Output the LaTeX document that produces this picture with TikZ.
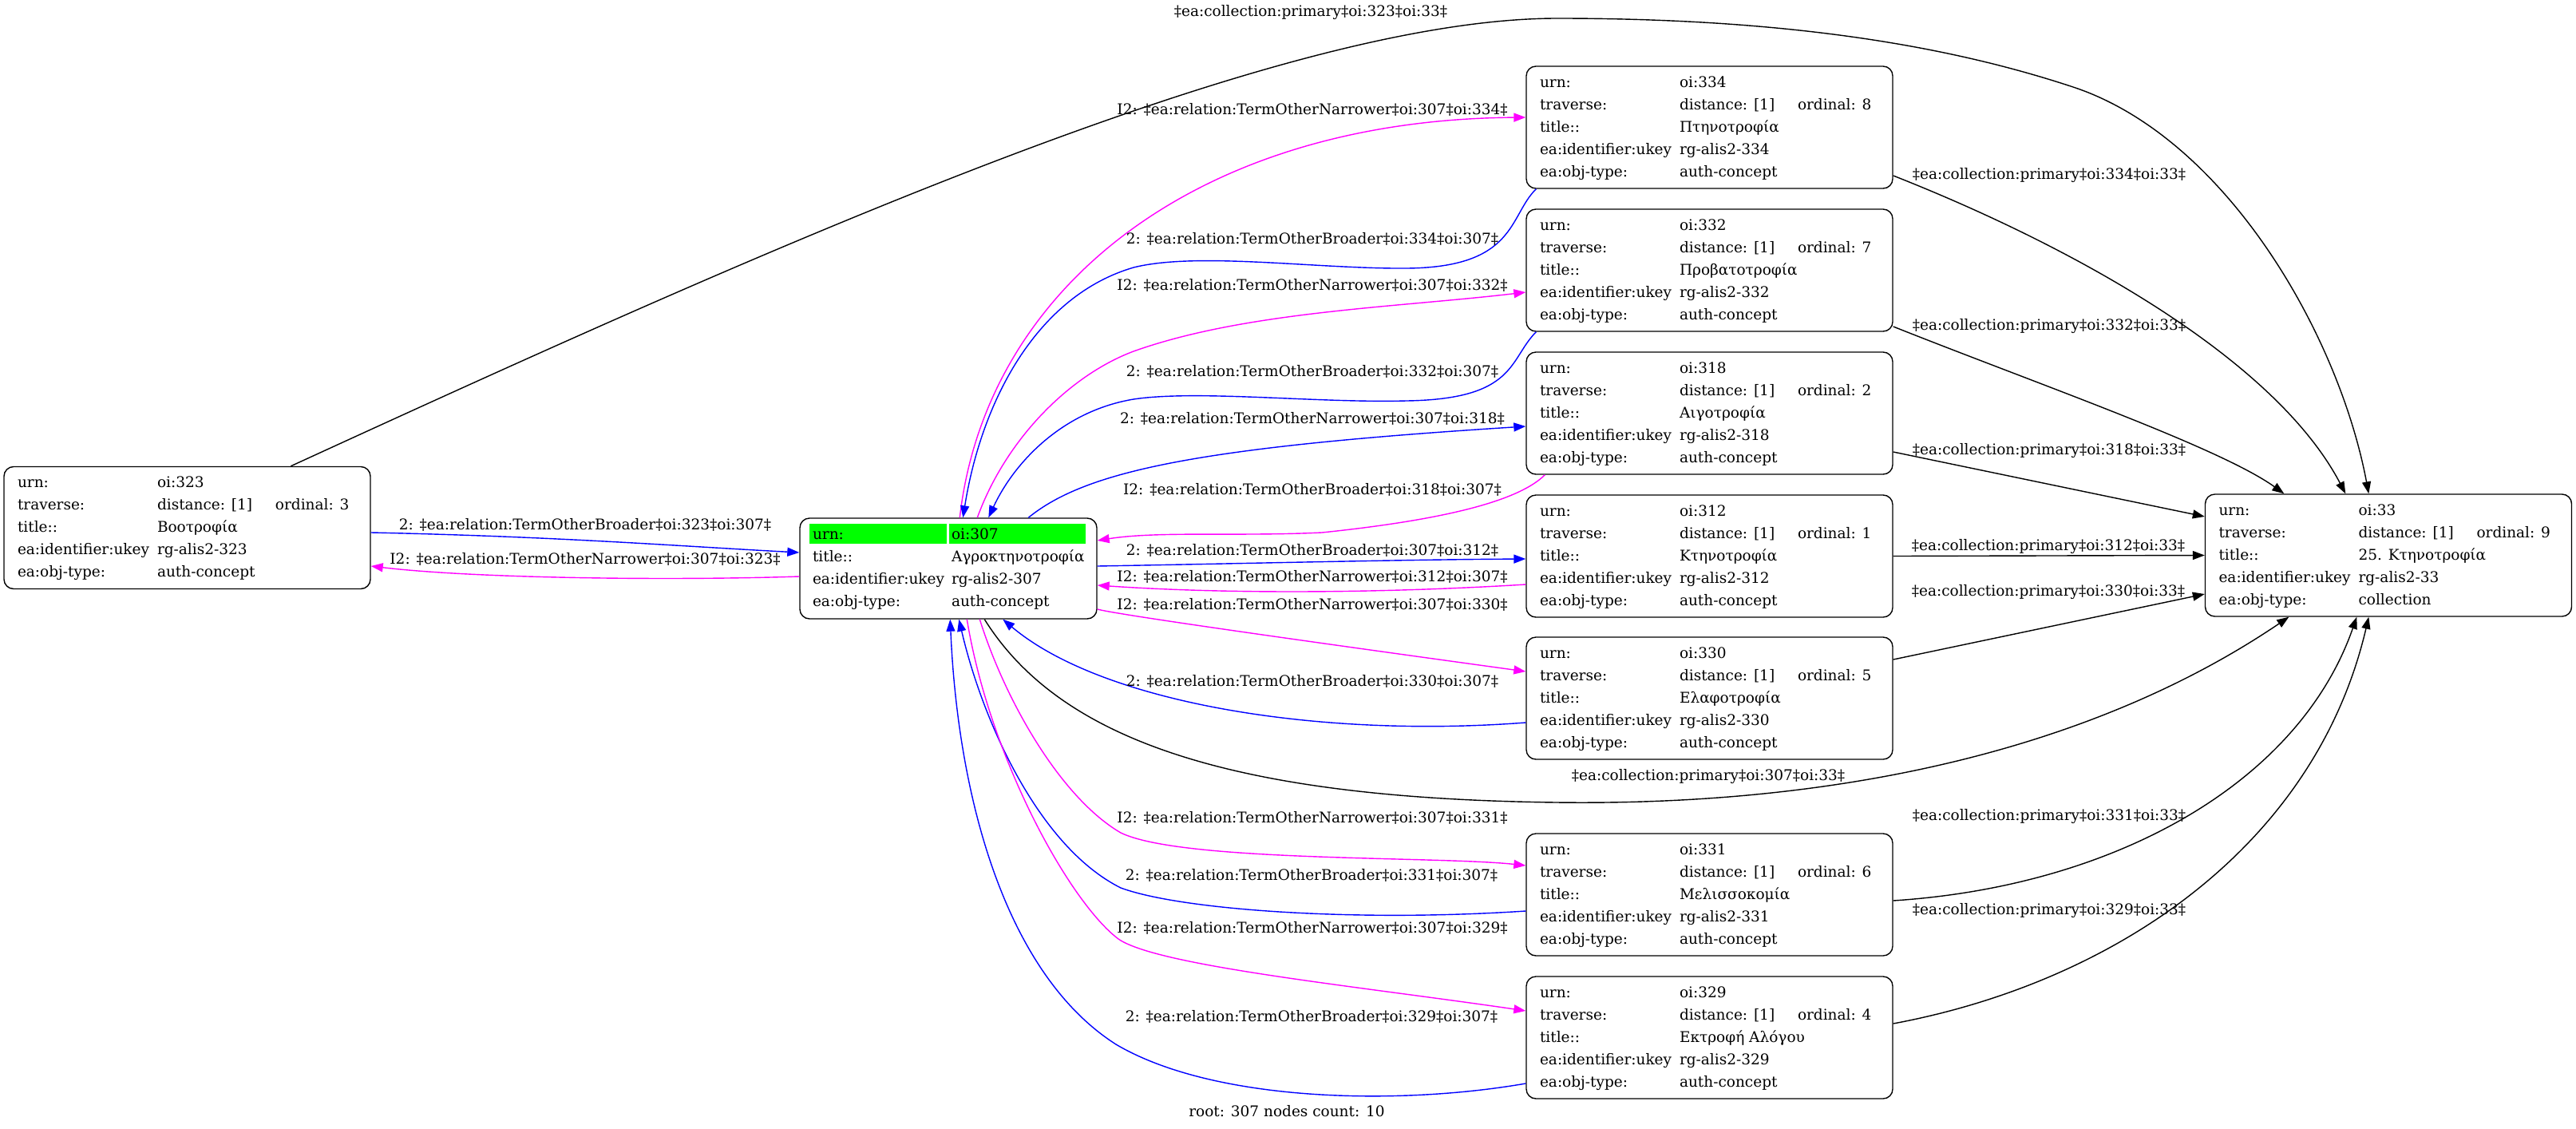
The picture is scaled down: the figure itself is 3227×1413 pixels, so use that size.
\documentclass[tikz,border=0pt]{standalone}
\usepackage{fontspec}
\setmainfont{DejaVu Serif}
\usetikzlibrary{arrows.meta,calc,backgrounds}
\definecolor{gvblue}{RGB}{0,0,255}
\definecolor{gvmag}{RGB}{255,0,255}
\definecolor{gvgreen}{RGB}{0,255,0}
\newcommand{\gvf}{\fontsize{18.5}{28}\selectfont}
\newcommand{\gvrow}[3]{\makebox[175pt][l]{#1}\makebox[148pt][l]{#2}\makebox[102pt][l]{#3}}
\newcommand{\gvrowb}[2]{\makebox[174pt][l]{#1}\makebox[166pt][l]{#2}}
\newcommand{\recfive}[5]{\begin{tabular}{@{}l@{}}\gvrow{urn:}{#1}{}\\\gvrow{traverse:}{distance: [1]}{ordinal: #2}\\\gvrow{title::}{#3}{}\\\gvrow{ea:identifier:ukey}{#4}{}\\\gvrow{ea:obj-type:}{#5}{}\end{tabular}}
\newcommand{\recfour}{\begin{tabular}{@{}l@{}}\gvrowb{urn:}{oi:307}\\\gvrowb{title::}{Αγροκτηνοτροφία}\\\gvrowb{ea:identifier:ukey}{rg-alis2-307}\\\gvrowb{ea:obj-type:}{auth-concept}\end{tabular}}
\begin{document}
\begin{tikzpicture}[x=1pt,y=-1pt,
  box5/.style={draw, line width=1.4pt, rounded corners=12pt, inner xsep=17pt, inner ysep=0pt, minimum width=459pt, minimum height=153pt, font=\gvf},
  box4/.style={draw, line width=1.4pt, rounded corners=12pt, inner xsep=16pt, inner ysep=0pt, minimum width=372pt, minimum height=126pt, font=\gvf},
  lbl/.style={inner sep=0pt, font=\gvf, text=black},
  edge/.style={line width=1.4pt, -{Triangle[length=15pt,width=11pt]}},
  bl/.style={edge, draw=gvblue},
  mg/.style={edge, draw=gvmag},
  bk/.style={edge, draw=black}]
\useasboundingbox (0,0) rectangle (3227,1413);

\node[box5] (n323) at (234.5,661) {\recfive{oi:323}{3}{Βοοτροφία}{rg-alis2-323}{auth-concept}};
\node[box4] (n307) at (1188,712) {\recfour};
\node[box5] (n334) at (2141.5,159.5) {\recfive{oi:334}{8}{Πτηνοτροφία}{rg-alis2-334}{auth-concept}};
\node[box5] (n332) at (2141.5,338.5) {\recfive{oi:332}{7}{Προβατοτροφία}{rg-alis2-332}{auth-concept}};
\node[box5] (n318) at (2141.5,517.5) {\recfive{oi:318}{2}{Αιγοτροφία}{rg-alis2-318}{auth-concept}};
\node[box5] (n312) at (2141.5,696.5) {\recfive{oi:312}{1}{Κτηνοτροφία}{rg-alis2-312}{auth-concept}};
\node[box5] (n330) at (2141.5,874.5) {\recfive{oi:330}{5}{Ελαφοτροφία}{rg-alis2-330}{auth-concept}};
\node[box5] (n331) at (2141.5,1120.5) {\recfive{oi:331}{6}{Μελισσοκομία}{rg-alis2-331}{auth-concept}};
\node[box5] (n329) at (2141.5,1299.5) {\recfive{oi:329}{4}{Εκτροφή Αλόγου}{rg-alis2-329}{auth-concept}};
\node[box5] (n33) at (2992,695.5) {\recfive{oi:33}{9}{25. Κτηνοτροφία}{rg-alis2-33}{collection}};

\begin{scope}[on background layer]
\fill[gvgreen] ($(n307.north west)+(13,8)$) rectangle ($(n307.north west)+(185,33)$);
\fill[gvgreen] ($(n307.north west)+(188,8)$) rectangle ($(n307.north west)+(359,33)$);
\end{scope}

% 323 <-> 307
\draw[bl] ($(n323.east)+(0,6)$) .. controls (700,672) and (850,684) .. ($(n307.west)+(0,-20)$)
  node[lbl] (l1) at (733,657) {2: ‡ea:relation:TermOtherBroader‡oi:323‡oi:307‡};
\draw[mg] ($(n307.west)+(0,10)$) .. controls (850,727) and (600,725) .. ($(n323.east)+(0,48)$)
  node[lbl] (l2) at (733,700) {I2: ‡ea:relation:TermOtherNarrower‡oi:307‡oi:323‡};

% collection edges
\draw[bk] ($(n323.north west)+(360,0)$) .. controls (966,308) and (1600,23) .. (1951,23)
  .. controls (2250,23) and (2450,60) .. (2600,110)
  .. controls (2790,175) and (2930,420) .. ($(n33.north west)+(205.5,0)$)
  node[lbl] (l3) at (1642,16) {‡ea:collection:primary‡oi:323‡oi:33‡};
\draw[bk] ($(n334.east)+(0,60.5)$) .. controls (2600,310) and (2850,450) .. ($(n33.north west)+(176.5,0)$)
  node[lbl] (l4) at (2567,220) {‡ea:collection:primary‡oi:334‡oi:33‡};
\draw[bk] ($(n332.east)+(0,70.5)$) .. controls (2550,480) and (2780,560) .. ($(n33.north west)+(99.5,0)$)
  node[lbl] (l5) at (2567,409) {‡ea:collection:primary‡oi:332‡oi:33‡};
\draw[bk] ($(n318.east)+(0,48.5)$) -- ($(n33.west)+(0,-48.5)$)
  node[lbl] (l6) at (2567,565) {‡ea:collection:primary‡oi:318‡oi:33‡};
\draw[bk] (n312.east) -- (n33.west)
  node[lbl] (l7) at (2566,685) {‡ea:collection:primary‡oi:312‡oi:33‡};
\draw[bk] ($(n330.east)+(0,-48.5)$) -- ($(n33.west)+(0,48.5)$)
  node[lbl] (l8) at (2566,742) {‡ea:collection:primary‡oi:330‡oi:33‡};
\draw[bk] ($(n331.east)+(0,7.5)$) .. controls (2650,1110) and (2880,980) .. ($(n33.south west)+(190.5,0)$)
  node[lbl] (l9) at (2567,1023) {‡ea:collection:primary‡oi:331‡oi:33‡};
\draw[bk] ($(n329.east)+(0,-17.5)$) .. controls (2650,1230) and (2900,1060) .. ($(n33.south west)+(205.5,0)$)
  node[lbl] (l10) at (2567,1141) {‡ea:collection:primary‡oi:329‡oi:33‡};
\draw[bk] ($(n307.south west)+(232,0)$) .. controls (1330,930) and (1550,1000) .. (1950,1005)
  .. controls (2350,1010) and (2650,920) .. ($(n33.south west)+(105.5,0)$)
  node[lbl] (l11) at (2140,973) {‡ea:collection:primary‡oi:307‡oi:33‡};

% 307 <-> 334
\draw[mg] ($(n307.north west)+(201,0)$) .. controls (1235,360) and (1500,150) .. ($(n334.west)+(0,-12.5)$)
  node[lbl] (l12) at (1644,137) {I2: ‡ea:relation:TermOtherNarrower‡oi:307‡oi:334‡};
\draw[bl] ($(n334.south west)+(13,0)$) .. controls (1890,270) and (1900,335) .. (1762,336)
  .. controls (1650,337) and (1500,315) .. (1420,335)
  .. controls (1300,370) and (1230,500) .. ($(n307.north west)+(205,0)$)
  node[lbl] (l13) at (1644,299) {2: ‡ea:relation:TermOtherBroader‡oi:334‡oi:307‡};
% 307 <-> 332
\draw[mg] ($(n307.north west)+(223,0)$) .. controls (1260,550) and (1340,470) .. (1420,440)
  .. controls (1560,390) and (1750,385) .. ($(n332.west)+(0,27.5)$)
  node[lbl] (l14) at (1644,357) {I2: ‡ea:relation:TermOtherNarrower‡oi:307‡oi:332‡};
\draw[bl] ($(n332.south west)+(13,0)$) .. controls (1890,450) and (1900,500) .. (1762,502)
  .. controls (1650,505) and (1500,488) .. (1420,500)
  .. controls (1330,515) and (1270,580) .. ($(n307.north west)+(237,0)$)
  node[lbl] (l15) at (1644,465) {2: ‡ea:relation:TermOtherBroader‡oi:332‡oi:307‡};
% 307 <-> 318
\draw[bl] ($(n307.north west)+(287,0)$) .. controls (1360,590) and (1500,560) .. ($(n318.west)+(0,16.5)$)
  node[lbl] (l16) at (1644,524) {2: ‡ea:relation:TermOtherNarrower‡oi:307‡oi:318‡};
\draw[mg] ($(n318.south west)+(24,0)$) .. controls (1905,625) and (1820,650) .. (1656,667)
  .. controls (1550,672) and (1450,665) .. ($(n307.east)+(0,-35)$)
  node[lbl] (l17) at (1644,613) {I2: ‡ea:relation:TermOtherBroader‡oi:318‡oi:307‡};
% 307 <-> 312
\draw[bl] ($(n307.east)+(0,-3)$) .. controls (1550,706) and (1750,701) .. ($(n312.west)+(0,3.5)$)
  node[lbl] (l18) at (1644,689) {2: ‡ea:relation:TermOtherBroader‡oi:307‡oi:312‡};
\draw[mg] ($(n312.west)+(0,35.5)$) .. controls (1750,742) and (1550,745) .. ($(n307.east)+(0,21)$)
  node[lbl] (l19) at (1644,722) {I2: ‡ea:relation:TermOtherNarrower‡oi:312‡oi:307‡};
% 307 <-> 330
\draw[mg] ($(n307.east)+(0,51)$) .. controls (1400,770) and (1650,805) .. ($(n330.west)+(0,-33.5)$)
  node[lbl] (l20) at (1644,757) {I2: ‡ea:relation:TermOtherNarrower‡oi:307‡oi:330‡};
\draw[bl] ($(n330.west)+(0,30.5)$) .. controls (1650,925) and (1380,880) .. ($(n307.south west)+(255,0)$)
  node[lbl] (l21) at (1644,853) {2: ‡ea:relation:TermOtherBroader‡oi:330‡oi:307‡};
% 307 <-> 331
\draw[mg] ($(n307.south west)+(226,0)$) .. controls (1260,880) and (1330,1000) .. (1404,1043)
  .. controls (1480,1080) and (1800,1072) .. ($(n331.west)+(0,-36.5)$)
  node[lbl] (l22) at (1644,1024) {I2: ‡ea:relation:TermOtherNarrower‡oi:307‡oi:331‡};
\draw[bl] ($(n331.west)+(0,20.5)$) .. controls (1700,1155) and (1480,1140) .. (1404,1112)
  .. controls (1300,1060) and (1230,900) .. ($(n307.south west)+(200,0)$)
  node[lbl] (l23) at (1643,1096) {2: ‡ea:relation:TermOtherBroader‡oi:331‡oi:307‡};
% 307 <-> 329
\draw[mg] ($(n307.south west)+(210,0)$) .. controls (1240,950) and (1340,1130) .. (1401,1176)
  .. controls (1450,1210) and (1700,1235) .. ($(n329.west)+(0,-33.5)$)
  node[lbl] (l24) at (1644,1162) {I2: ‡ea:relation:TermOtherNarrower‡oi:307‡oi:329‡};
\draw[bl] ($(n329.west)+(0,57.5)$) .. controls (1750,1385) and (1520,1380) .. (1398,1308)
  .. controls (1260,1220) and (1200,1000) .. ($(n307.south west)+(189,0)$)
  node[lbl] (l25) at (1643,1273) {2: ‡ea:relation:TermOtherBroader‡oi:329‡oi:307‡};

\node[lbl] (root) at (1612,1392) {root: 307 nodes count: 10};
\end{tikzpicture}
\end{document}
